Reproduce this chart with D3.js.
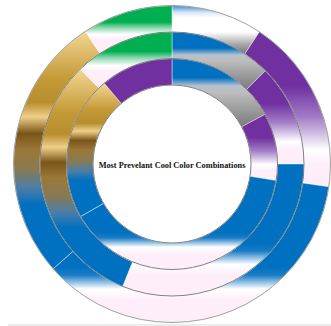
<!DOCTYPE html>
<html><head><meta charset="utf-8">
<script src="https://cdn.jsdelivr.net/npm/d3@7"></script>
<style>html,body{margin:0;padding:0;background:#fff;overflow:hidden}</style>
</head><body>
<svg id="chart" width="331" height="326"></svg>
<script>
// ---- data ----
const title = "Most Prevelant Cool Color Combinations";
const ringNames = ["Outer", "Middle", "Inner"];
const outerCombos = ["White & Gray", "Purple & Lavender", "Blue & Lavender", "Gold & Blue", "Green & Lavender"];
const outerValues = [9.3, 18.0, 36.2, 27.3, 9.2];
const middleCombos = ["Blue & Gray", "Purple & Lavender", "Blue & Lavender", "Gold & Blue", "Green & Lavender"];
const middleValues = [12.5, 12.5, 31.1, 31.7, 12.2];
const innerCombos = ["Blue & Gray", "Purple & Lavender", "Blue & Lavender", "Gold & Blue", "Purple"];
const innerValues = [17.2, 10.3, 39.2, 22.2, 11.1];

// ---- styles (gradient per combination) ----
const gradientStops = {
  "White & Gray": [[0,"#3f86cc"],[0.14,"#d6e6f5"],[0.25,"#ffffff"],[0.55,"#ffffff"],[0.8,"#a8a8a8"],[1,"#767676"]],
  "Blue & Gray": [[0,"#0070c0"],[0.28,"#0070c0"],[0.4,"#b4c2cf"],[0.5,"#bdbdbd"],[1,"#7a7a7a"]],
  "Purple & Lavender": [[0,"#7030a0"],[0.35,"#7030a0"],[0.55,"#a27cc6"],[0.76,"#ffffff"],[0.86,"#fdeefa"],[1,"#fdeefa"]],
  "Blue & Lavender": [[0,"#0070c0"],[0.6,"#0070c0"],[0.66,"#1a7cc6"],[0.76,"#ffffff"],[0.84,"#fdeefa"],[1,"#fdeefa"]],
  "Gold & Blue": [[0,"#f3d796"],[0.1,"#dcb866"],[0.2,"#c39a35"],[0.3,"#b88e2e"],[0.36,"#efd08a"],[0.43,"#7a5518"],[0.5,"#9a7838"],[0.58,"#8a7a50"],[0.66,"#4a7ea8"],[0.73,"#0070c0"],[1,"#0070c0"]],
  "Green & Lavender": [[0,"#00b050"],[0.35,"#00b050"],[0.45,"#7fd4a6"],[0.6,"#ffffff"],[0.72,"#fdeefa"],[1,"#fdeefa"]],
  "Purple": [[0,"#7030a0"],[1,"#7030a0"]]
};

const W = 331, H = 326, cx = 172, cy = 164;
const svg = d3.select("#chart");

// bottom strip (frame edge)
svg.append("rect").attr("x", 8).attr("y", 324).attr("width", W - 8).attr("height", 2).attr("fill", "#ececec");

const defs = svg.append("defs");
const keyOf = s => "g" + s.replace(/[^A-Za-z]/g, "");
Object.entries(gradientStops).forEach(([name, stops]) => {
  const g = defs.append("linearGradient").attr("id", keyOf(name))
    .attr("x1", 0).attr("y1", 0).attr("x2", 0).attr("y2", 1);
  stops.forEach(([o, c]) => g.append("stop").attr("offset", o).attr("stop-color", c));
});

const rings = [
  {name: ringNames[0], combos: outerCombos, values: outerValues},
  {name: ringNames[1], combos: middleCombos, values: middleValues},
  {name: ringNames[2], combos: innerCombos, values: innerValues}
];

const rScale = d3.scaleLinear().domain([0, rings.length]).range([158.5, 79]);
const pie = d3.pie().sort(null).value(d => d.value);

const g = svg.append("g").attr("transform", `translate(${cx},${cy})`);

rings.forEach((ring, i) => {
  const data = ring.combos.map((c, j) => ({combo: c, value: ring.values[j]}));
  const arc = d3.arc().innerRadius(rScale(i + 1)).outerRadius(rScale(i));
  g.append("g").selectAll("path").data(pie(data)).join("path")
    .attr("d", arc)
    .attr("fill", d => `url(#${keyOf(d.data.combo)})`)
    .attr("stroke", "rgba(255,255,255,0.7)")
    .attr("stroke-width", 0.6);
});

// ring edges
g.selectAll("circle.edge").data(d3.range(rings.length + 1)).join("circle")
  .attr("class", "edge")
  .attr("r", d => rScale(d))
  .attr("fill", "none")
  .attr("stroke", d => d === 0 ? "#a0a0a0" : "#808080")
  .attr("stroke-width", 1);

g.append("text")
  .attr("x", 0).attr("y", 4)
  .attr("text-anchor", "middle")
  .attr("font-family", "'Liberation Serif', 'Times New Roman', serif")
  .attr("font-weight", "bold")
  .attr("font-size", 8.3)
  .attr("fill", "#111111")
  .text(title);
</script>
</body></html>
